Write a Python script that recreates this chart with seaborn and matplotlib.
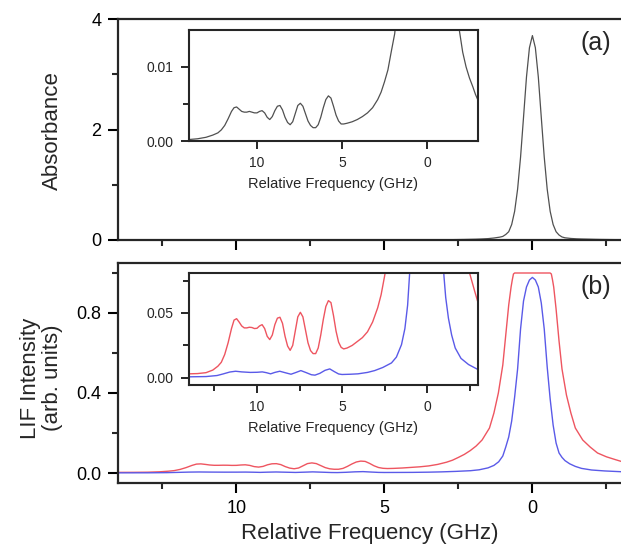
import numpy as np
import pandas as pd
import matplotlib
matplotlib.use("Agg")
import matplotlib.pyplot as plt
import seaborn as sns

# ---------------- data ----------------
abs_freq = [14.0, 13.5, 13.0, 12.6, 12.3, 12.1, 11.9, 11.7, 11.5, 11.35, 11.2, 11.05,
            10.9, 10.75, 10.6, 10.45, 10.3, 10.15, 10.0, 9.85, 9.7, 9.55, 9.4, 9.25,
            9.1, 8.95, 8.8, 8.65, 8.5, 8.35, 8.2, 8.05, 7.9, 7.75, 7.6, 7.45, 7.3,
            7.15, 7.0, 6.85, 6.7, 6.55, 6.4, 6.25, 6.1, 5.95, 5.8, 5.65, 5.5, 5.35,
            5.2, 5.05, 4.9, 4.7, 4.4, 4.1, 3.8, 3.5, 3.2, 2.9, 2.7, 2.5, 2.3, 2.1,
            1.9, 1.7, 1.5, 1.3, 1.1, 1.0, 0.9, 0.8, 0.7, 0.6, 0.5, 0.4, 0.3, 0.2,
            0.1, 0.0, -0.1, -0.2, -0.3, -0.4, -0.5, -0.6, -0.7, -0.8, -0.9, -1.0,
            -1.1, -1.3, -1.5, -1.7, -1.9, -2.1, -2.3, -2.5, -2.7, -2.85, -3.0, -3.3]
absorbance = [0.0002, 0.0003, 0.0005, 0.0008, 0.0011, 0.0015, 0.0021, 0.0030, 0.0040,
              0.0045, 0.0046, 0.0043, 0.0040, 0.0039, 0.0039, 0.0040, 0.0039, 0.0038,
              0.0038, 0.0040, 0.0041, 0.0038, 0.0032, 0.0029, 0.0033, 0.0041, 0.0047,
              0.0048, 0.0042, 0.0032, 0.0025, 0.0022, 0.0026, 0.0037, 0.0048, 0.0051,
              0.0047, 0.0037, 0.0027, 0.0021, 0.0018, 0.0018, 0.0022, 0.0032, 0.0045,
              0.0056, 0.0061, 0.0058, 0.0047, 0.0035, 0.0027, 0.0023, 0.0023, 0.0024,
              0.0026, 0.0029, 0.0033, 0.0038, 0.0045, 0.0056, 0.0066, 0.0080, 0.0096,
              0.0121, 0.0145, 0.019, 0.025, 0.036, 0.052, 0.065, 0.10, 0.15, 0.28,
              0.52, 0.92, 1.50, 2.22, 2.95, 3.48, 3.70, 3.48, 2.95, 2.22, 1.50, 0.92,
              0.52, 0.28, 0.15, 0.09, 0.055, 0.040, 0.028, 0.021, 0.0175, 0.0150,
              0.0120, 0.0100, 0.0085, 0.0073, 0.0063, 0.0055, 0.0045]

red_freq = [14.0, 13.5, 13.0, 12.6, 12.3, 12.1, 11.9, 11.7, 11.5, 11.35, 11.2, 11.05,
            10.9, 10.75, 10.6, 10.45, 10.3, 10.15, 10.0, 9.85, 9.7, 9.55, 9.4, 9.25,
            9.1, 8.95, 8.8, 8.65, 8.5, 8.35, 8.2, 8.05, 7.9, 7.75, 7.6, 7.45, 7.3,
            7.15, 7.0, 6.85, 6.7, 6.55, 6.4, 6.25, 6.1, 5.95, 5.8, 5.65, 5.5, 5.35,
            5.2, 5.05, 4.9, 4.7, 4.4, 4.1, 3.8, 3.5, 3.2, 2.9, 2.7, 2.5, 2.3, 2.1,
            1.9, 1.7, 1.45, 1.3, 1.15, 1.0, 0.9, 0.8, 0.72, 0.68, 0.64, 0.6, 0.3,
            0.0, -0.3, -0.6, -0.64, -0.68, -0.72, -0.8, -0.9, -1.0, -1.15, -1.3,
            -1.45, -1.7, -1.95, -2.2, -2.5, -2.8, -3.0, -3.3]
lif_red = [0.0031, 0.0033, 0.0040, 0.0060, 0.0090, 0.0120, 0.0180, 0.0270, 0.0380,
           0.0445, 0.0456, 0.0430, 0.0400, 0.0385, 0.0385, 0.0390, 0.0388, 0.0380,
           0.0382, 0.0400, 0.0410, 0.0380, 0.0320, 0.0295, 0.0330, 0.0410, 0.0460,
           0.0467, 0.0420, 0.0320, 0.0245, 0.0212, 0.0250, 0.0360, 0.0470, 0.0505,
           0.0470, 0.0370, 0.0270, 0.0210, 0.0187, 0.0187, 0.0230, 0.0330, 0.0450,
           0.0550, 0.0595, 0.0580, 0.0480, 0.0360, 0.0275, 0.0235, 0.0223, 0.0230,
           0.0250, 0.0280, 0.0310, 0.0355, 0.0430, 0.0540, 0.0640, 0.0780, 0.0930,
           0.112, 0.135, 0.165, 0.225, 0.30, 0.40, 0.54, 0.69, 0.84, 0.93, 0.965,
           0.995, 1.0, 1.0, 1.0, 1.0, 1.0, 0.995, 0.965, 0.93, 0.82, 0.66, 0.52,
           0.39, 0.30, 0.225, 0.165, 0.13, 0.10, 0.081, 0.067, 0.058, 0.048]

blue_freq = [14.0, 13.0, 12.35, 12.0, 11.6, 11.26, 10.9, 10.4, 10.0, 9.69, 9.45, 9.2,
             8.95, 8.66, 8.35, 8.0, 7.7, 7.42, 7.1, 6.8, 6.59, 6.3, 6.0, 5.72, 5.45,
             5.2, 5.0, 4.5, 4.06, 3.5, 3.08, 2.6, 2.09, 1.8, 1.5, 1.3, 1.14, 1.0,
             0.9, 0.8, 0.7, 0.6, 0.5, 0.4, 0.3, 0.2, 0.1, 0.0, -0.1, -0.2, -0.3,
             -0.4, -0.5, -0.6, -0.7, -0.8, -0.9, -1.0, -1.1, -1.26, -1.45, -1.66,
             -2.0, -2.44, -3.0, -3.3]
lif_blue = [0.0008, 0.0010, 0.0018, 0.0030, 0.0045, 0.0051, 0.0046, 0.0042, 0.0043,
            0.0046, 0.0040, 0.0031, 0.0042, 0.0051, 0.0040, 0.0028, 0.0042, 0.0056,
            0.0040, 0.0024, 0.0021, 0.0035, 0.0058, 0.0069, 0.0048, 0.0030, 0.0026,
            0.0028, 0.0031, 0.0042, 0.0056, 0.0080, 0.0115, 0.0160, 0.0256, 0.038,
            0.056, 0.085, 0.13, 0.18, 0.26, 0.38, 0.52, 0.72, 0.86, 0.93, 0.965,
            0.978, 0.965, 0.93, 0.85, 0.72, 0.53, 0.37, 0.24, 0.15, 0.10, 0.078,
            0.062, 0.046, 0.033, 0.023, 0.015, 0.0103, 0.0064, 0.0055]

abs_df = pd.DataFrame({"freq": abs_freq, "val": absorbance})
red_df = pd.DataFrame({"freq": red_freq, "val": lif_red})
blue_df = pd.DataFrame({"freq": blue_freq, "val": lif_blue})

# ---------------- style ----------------
sns.set_theme(style="ticks")
plt.rcParams["font.family"] = ["Liberation Sans", "DejaVu Sans"]
plt.rcParams["axes.linewidth"] = 1.6
plt.rcParams["xtick.direction"] = "out"
plt.rcParams["ytick.direction"] = "out"

RED = "#ee5560"
BLUE = "#5a5ae8"
GRAY = "#505050"

W, H = 621, 549
fig = plt.figure(figsize=(W / 100, H / 100), dpi=100)

PX_PER_GHZ = 29.6
X_LEFT, X_RIGHT = 14.0, -3.3
main_w = (X_LEFT - X_RIGHT) * PX_PER_GHZ / W


def fx(px):
    return px / W


def fy(py):
    return 1 - py / H


ax1 = fig.add_axes([fx(118), fy(240), main_w, (240 - 19) / H])
ax2 = fig.add_axes([fx(118), fy(483), main_w, (483 - 263) / H])
in1 = fig.add_axes([fx(189), fy(141), (478 - 189) / W, (141 - 30) / H])
in2 = fig.add_axes([fx(189), fy(385), (478 - 189) / W, (385 - 273) / H])

# main panels
sns.lineplot(data=abs_df, x="freq", y="val", ax=ax1, color=GRAY, lw=0.9,
             estimator=None, sort=False)
sns.lineplot(data=red_df, x="freq", y="val", ax=ax2, color=RED, lw=1.0,
             estimator=None, sort=False)
sns.lineplot(data=blue_df, x="freq", y="val", ax=ax2, color=BLUE, lw=1.0,
             estimator=None, sort=False)
# insets
sns.lineplot(data=abs_df, x="freq", y="val", ax=in1, color=GRAY, lw=0.9,
             estimator=None, sort=False)
sns.lineplot(data=red_df, x="freq", y="val", ax=in2, color=RED, lw=1.0,
             estimator=None, sort=False)
sns.lineplot(data=blue_df, x="freq", y="val", ax=in2, color=BLUE, lw=1.0,
             estimator=None, sort=False)

for ax in (ax1, ax2):
    ax.set_xlim(X_LEFT, X_RIGHT)
    ax.spines["right"].set_visible(False)
    ax.set_xticks([10, 5, 0])
    ax.set_xticks([12.5, 7.5, 2.5, -2.5], minor=True)
    ax.tick_params(which="major", length=7, width=1.5, labelsize=13, pad=5,
                   colors="black")
    ax.tick_params(which="minor", length=4.5, width=1.5)
    ax.set_xlabel("")
    ax.set_ylabel("")

ax1.set_ylim(0, 4)
ax1.set_yticks([0, 2, 4])
ax1.set_yticklabels(["0", "2", "4"])
ax1.set_yticks([1, 3], minor=True)
ax1.tick_params(axis="x", labelbottom=False)

ax2.set_ylim(-0.05, 1.05)
ax2.set_yticks([0.0, 0.4, 0.8])
ax2.set_yticklabels(["0.0", "0.4", "0.8"])
ax2.set_yticks([0.2, 0.6, 1.0], minor=True)
ax2.set_xticklabels(["10", "5", "0"])
ax2.set_xlabel("Relative Frequency (GHz)", fontsize=16)
ax2.xaxis.set_label_coords(fx(370), fy(523), transform=fig.transFigure)

ax1.set_ylabel("Absorbance", fontsize=16)
ax1.yaxis.set_label_coords(fx(63), fy(131), transform=fig.transFigure)
ax2.set_ylabel("LIF Intensity\n(arb. units)", fontsize=16, linespacing=1.05)
ax2.yaxis.set_label_coords(fx(63), fy(378), transform=fig.transFigure)

for ax in (in1, in2):
    ax.set_xlim(14, -3)
    ax.set_xticks([10, 5, 0])
    ax.set_xticklabels(["10", "5", "0"])
    ax.tick_params(which="major", length=6, width=1.4, labelsize=10, pad=5)
    ax.tick_params(which="minor", length=4, width=1.4)
    for s in ax.spines.values():
        s.set_linewidth(1.5)
    ax.set_ylabel("")
    ax.set_xlabel("Relative Frequency (GHz)", fontsize=10.5, labelpad=5)

in1.set_ylim(0, 0.015)
in1.set_yticks([0.0, 0.01])
in1.set_yticklabels(["0.00", "0.01"])
in1.set_yticks([0.005], minor=True)

in2.set_ylim(-0.0055, 0.0808)
in2.set_yticks([0.0, 0.05])
in2.set_yticklabels(["0.00", "0.05"])
in2.set_yticks([0.025, 0.075], minor=True)
in2.set_xticks([12.5, 7.5, 2.5, -2.5], minor=True)

fig.text(fx(596), fy(43), "(a)", fontsize=18, ha="center", va="center")
fig.text(fx(596), fy(287), "(b)", fontsize=18, ha="center", va="center")

fig.savefig("out.png", dpi=100)
